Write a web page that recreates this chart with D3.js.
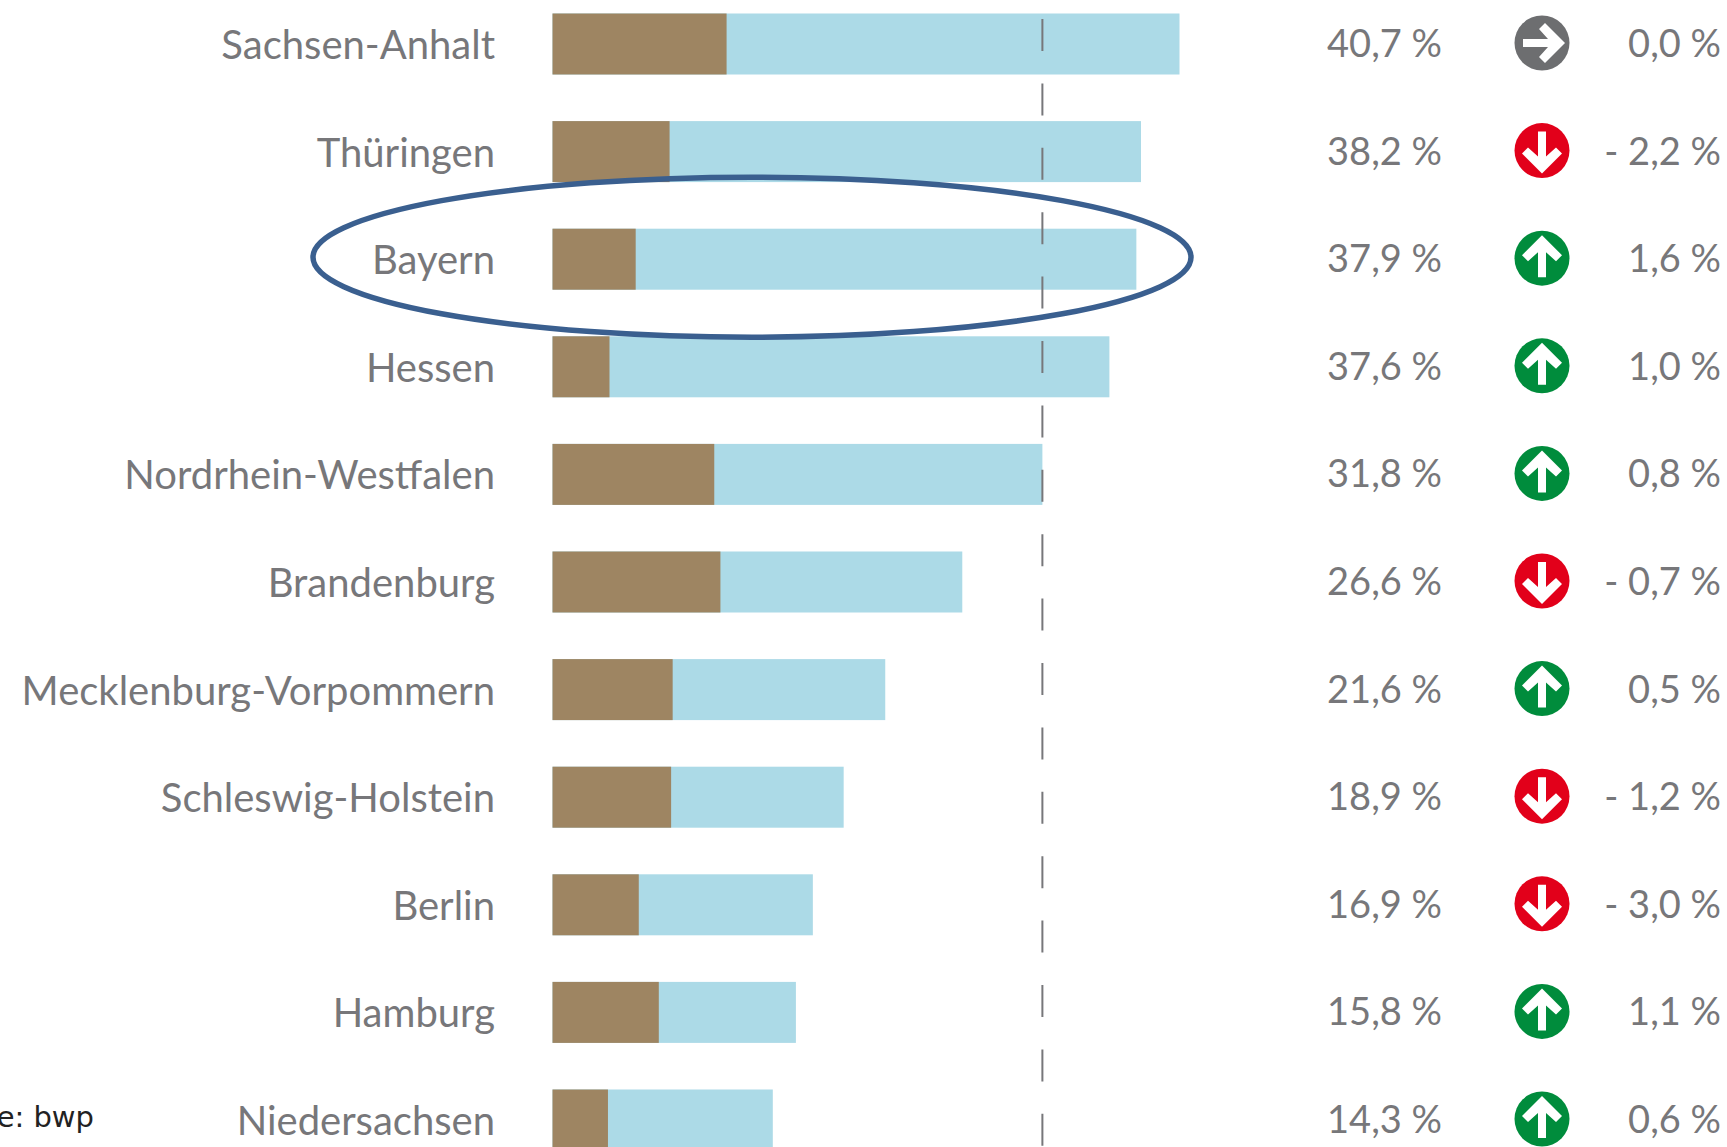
<!DOCTYPE html>
<html><head><meta charset="utf-8">
<script src="https://cdn.jsdelivr.net/npm/d3@7/dist/d3.min.js"></script>
<style>html,body{margin:0;padding:0;background:#fff;overflow:hidden}svg{display:block}</style>
</head><body><svg id="c" width="1727" height="1147"></svg>
<script>
const states = ["Sachsen-Anhalt","Thüringen","Bayern","Hessen","Nordrhein-Westfalen","Brandenburg","Mecklenburg-Vorpommern","Schleswig-Holstein","Berlin","Hamburg","Niedersachsen"];
const totals = [40.7,38.2,37.9,37.6,31.8,26.6,21.6,18.9,16.9,15.8,14.3];
const brown  = [11.3,7.6,5.4,3.7,10.5,10.9,7.8,7.7,5.6,6.9,3.6];
const barEnds = [40.7,38.2,37.9,36.15,31.8,26.6,21.6,18.9,16.9,15.8,14.3];
const changes = [0.0,-2.2,1.6,1.0,0.8,-0.7,0.5,-1.2,-3.0,1.1,0.6];
const referenceValue = 31.8;
const highlighted = "Bayern";
const sourceText = "Quelle: bwp";

const svg = d3.select("#c");
const x = d3.scaleLinear().domain([0,40.7]).range([552.5,1179.5]);
const y = d3.scalePoint().domain(states).range([44,1120]);
const barH = 61;
const font = "Lato, 'Open Sans', sans-serif";
const grey = "#77777a";
const fmt = v => d3.format(".1f")(Math.abs(v)).replace(".",",");

const rows = svg.selectAll("g.row").data(states).join("g").attr("class","row");
rows.append("rect").attr("x",x(0)).attr("y",d=>y(d)-barH/2)
  .attr("width",(d,i)=>x(barEnds[i])-x(0)).attr("height",barH).attr("fill","#acdae7");
rows.append("rect").attr("x",x(0)).attr("y",d=>y(d)-barH/2)
  .attr("width",(d,i)=>x(brown[i])-x(0)).attr("height",barH).attr("fill","#9e8562");
rows.append("text").attr("x",495).attr("y",d=>y(d)+15).attr("text-anchor","end")
  .attr("font-family",font).attr("font-weight",400).attr("font-size",40).attr("fill",grey).text(d=>d);
rows.append("text").attr("x",1442).attr("y",d=>y(d)+13).attr("text-anchor","end")
  .attr("font-family",font).attr("font-weight",400).attr("font-size",38).attr("fill",grey)
  .text((d,i)=>fmt(totals[i])+" %");
rows.append("text").attr("x",1721).attr("y",d=>y(d)+13).attr("text-anchor","end")
  .attr("font-family",font).attr("font-weight",400).attr("font-size",38).attr("fill",grey)
  .text((d,i)=>(changes[i]<0?"- ":"")+fmt(changes[i])+" %");

const arrow = "M0,-23L20,-3L14,3L4,-6L4,19L-4,19L-4,-6L-14,3L-20,-3Z";
const icons = rows.append("g").attr("transform",d=>`translate(1542,${y(d)-1})`);
icons.append("circle").attr("r",27.5).attr("fill",(d,i)=>changes[i]>0?"#008c3c":changes[i]<0?"#e2001a":"#6d6e70");
icons.append("path").attr("d",arrow).attr("fill","#fff")
  .attr("transform",(d,i)=>`rotate(${changes[i]>0?0:changes[i]<0?180:90})`);

svg.append("line").attr("x1",x(referenceValue)).attr("x2",x(referenceValue))
  .attr("y1",19).attr("y2",1147).attr("stroke","#77777a").attr("stroke-width",2)
  .attr("stroke-dasharray","32 32.4");

svg.append("ellipse").attr("cx",752).attr("cy",y(highlighted)-2).attr("rx",439).attr("ry",80)
  .attr("fill","none").attr("stroke","#3a5f8f").attr("stroke-width",5.5);

svg.append("text").attr("x",94).attr("y",1127).attr("text-anchor","end")
  .attr("font-family","'DejaVu Sans', sans-serif").attr("font-size",29).attr("fill","#222").text(sourceText);
</script></body></html>
